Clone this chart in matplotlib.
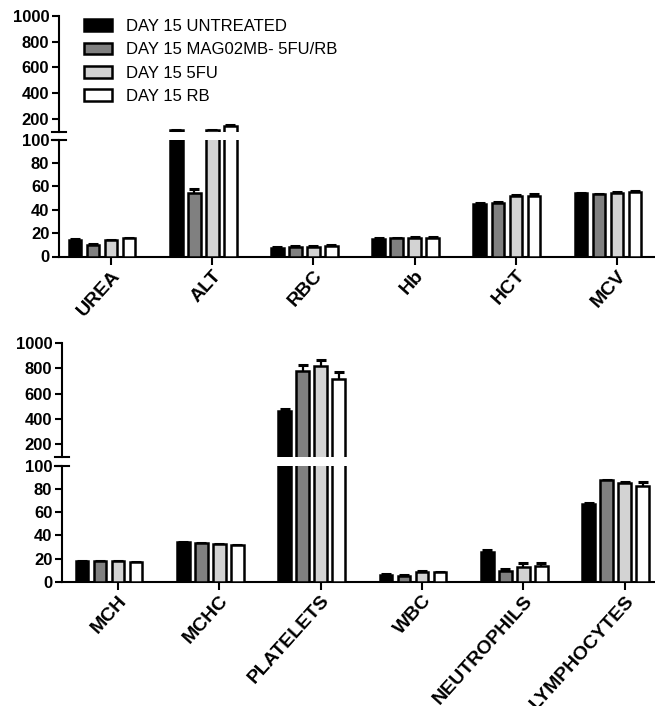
import matplotlib
matplotlib.use('Agg')
import matplotlib.pyplot as plt
import numpy as np
from matplotlib.patches import Patch

plt.rcParams['font.family'] = ['Liberation Sans', 'DejaVu Sans']

series = ['DAY 15 UNTREATED', 'DAY 15 MAG02MB- 5FU/RB', 'DAY 15 5FU', 'DAY 15 RB']
colors = ['#000000', '#808080', '#d3d3d3', '#ffffff']

top_categories = ['UREA', 'ALT', 'RBC', 'Hb', 'HCT', 'MCV']
top_untreated = [14.5, 110, 7.5, 15, 44.5, 54]
top_mag = [10, 54, 8.5, 15.5, 46, 53]
top_5fu = [14, 110, 8.5, 16, 51.5, 54.5]
top_rb = [15.5, 145, 9, 16, 52, 55]
top_untreated_err = [0.5, 3, 0.3, 0.5, 0.8, 0.5]
top_mag_err = [0.5, 4, 0.3, 0.5, 0.8, 0.5]
top_5fu_err = [0.5, 3, 0.3, 0.8, 1.2, 0.8]
top_rb_err = [0.6, 8, 0.5, 0.8, 1.2, 0.8]

bot_categories = ['MCH', 'MCHC', 'PLATELETS', 'WBC', 'NEUTROPHILS', 'LYMPHOCYTES']
bot_untreated = [18, 34, 460, 6, 26, 67.5]
bot_mag = [18, 33.5, 780, 5, 9.5, 87.5]
bot_5fu = [18, 32.5, 820, 8.5, 13, 85]
bot_rb = [17, 31.5, 715, 8, 13.5, 83]
bot_untreated_err = [0.3, 0.3, 20, 0.5, 1, 0.5]
bot_mag_err = [0.3, 0.3, 45, 0.8, 1.5, 0.8]
bot_5fu_err = [0.3, 0.5, 40, 0.8, 3, 1.5]
bot_rb_err = [0.3, 0.5, 55, 0.6, 3, 3.5]

upper_ticks = [200, 400, 600, 800, 1000]
lower_ticks = [0, 20, 40, 60, 80, 100]

W, H = 655, 706
fig = plt.figure(figsize=(W / 100, H / 100), dpi=100)

LW = 1.8
STEP = 0.178
BW = 0.125


def px_axes(left_px, top_px, bottom_px, right_px=W):
    return fig.add_axes([left_px / W, 1 - bottom_px / H,
                         (right_px - left_px) / W, (bottom_px - top_px) / H])


def draw_panel(ax_up, ax_lo, cats, vals, errs, xlim):
    x = np.arange(len(cats))
    ax_up.set_ylim(100, 1000)
    ax_lo.set_ylim(0, 100)
    for ax in (ax_up, ax_lo):
        lo_lim = ax.get_ylim()[0]
        for j, (v, e, c) in enumerate(zip(vals, errs, colors)):
            v = np.asarray(v, float)
            e = np.asarray(e, float)
            xp = x + (j - 2) * STEP
            ax.vlines(xp, v, v + e, color='black', lw=1.6, zorder=2)
            show = (v + e) > lo_lim + 1
            ax.plot(xp[show], (v + e)[show], ls='none', marker='_',
                    markersize=7.5, mew=2.2, color='black', zorder=2)
            ax.bar(xp, v, width=BW, color=c, edgecolor='black',
                   linewidth=LW, zorder=3)
        ax.set_xlim(*xlim)
        ax.spines['top'].set_visible(False)
        ax.spines['right'].set_visible(False)
        ax.spines['left'].set_linewidth(1.5)
        ax.spines['bottom'].set_linewidth(1.5)
        ax.tick_params(axis='y', length=5, width=1.5, labelsize=12, pad=2)
    ax_up.set_yticks(upper_ticks)
    ax_up.set_yticklabels([str(t) for t in upper_ticks], fontweight='bold')
    ax_up.spines['bottom'].set_visible(False)
    ax_up.set_xticks([])
    ax_lo.set_yticks(lower_ticks)
    ax_lo.set_yticklabels([str(t) for t in lower_ticks], fontweight='bold')
    ax_lo.set_xticks(x)
    ax_lo.set_xticklabels(cats, rotation=48, ha='right', va='top',
                          rotation_mode='anchor', fontweight='bold', fontsize=14)
    ax_lo.tick_params(axis='x', length=6, width=1.5, pad=1.5)
    # break marks
    for ax, yy in ((ax_up, 0), (ax_lo, 1)):
        ax.plot([-0.012, 0.012], [yy, yy], transform=ax.transAxes,
                color='black', lw=1.5, clip_on=False, zorder=5)


t_up = px_axes(59, 16, 131.5)
t_lo = px_axes(59, 139.5, 256.5)
draw_panel(t_up, t_lo, top_categories,
           [top_untreated, top_mag, top_5fu, top_rb],
           [top_untreated_err, top_mag_err, top_5fu_err, top_rb_err],
           (-0.514, 5.375))

b_up = px_axes(62, 342.7, 457)
b_lo = px_axes(62, 466, 581.7)
draw_panel(b_up, b_lo, bot_categories,
           [bot_untreated, bot_mag, bot_5fu, bot_rb],
           [bot_untreated_err, bot_mag_err, bot_5fu_err, bot_rb_err],
           (-0.553, 5.30))

handles = [Patch(facecolor=c, edgecolor='black', linewidth=LW) for c in colors]
fig.legend(handles, series, loc='upper left', bbox_to_anchor=(84 / W, 1 - 19 / H),
           frameon=False, fontsize=12, borderaxespad=0, borderpad=0,
           handlelength=1.65, handleheight=0.72, handletextpad=0.9,
           labelspacing=0.5)

fig.savefig('out.png', dpi=100)
